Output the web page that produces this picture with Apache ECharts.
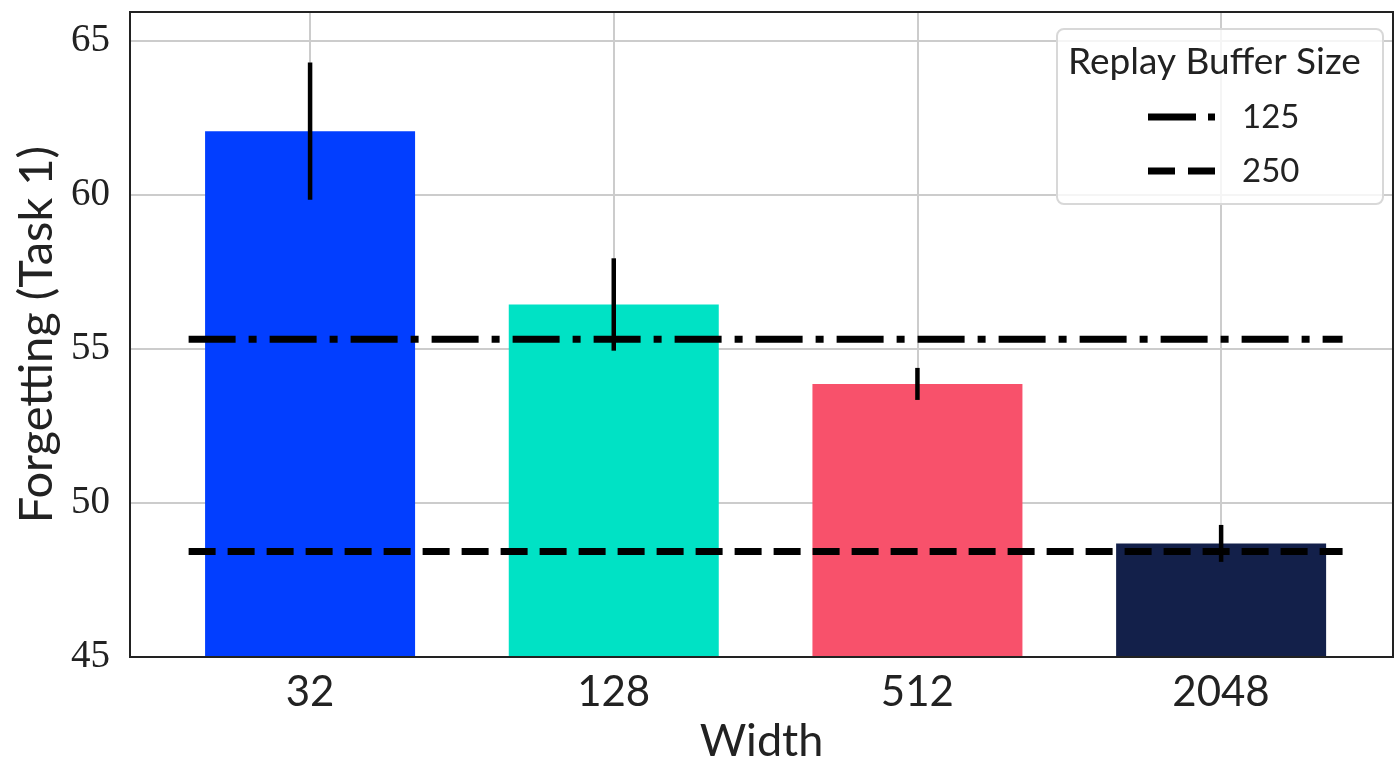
<!DOCTYPE html>
<html>
<head>
<meta charset="utf-8">
<script src="https://cdn.jsdelivr.net/npm/echarts@6/dist/echarts.min.js"></script>
<style>
  html, body { margin: 0; padding: 0; background: #fff; }
  #chart { width: 1394px; height: 762px; }
</style>
</head>
<body>
<div id="chart"></div>
<script>
// Network width categories and mean forgetting on task 1
const widths = ['32', '128', '512', '2048'];
const forgetting = [62.08, 56.45, 53.87, 48.69];
const forgettingErr = [2.23, 1.5, 0.52, 0.6];
const barColors = ['#023EFF', '#00E2C5', '#F8516B', '#13204A'];

// Replay baselines (buffer size -> forgetting)
const bufferSizes = ['125', '250'];
const bufferForgetting = [55.32, 48.43];

const yTicks = [45, 50, 55, 60, 65];

const SANS = 'Lato, "DejaVu Sans", sans-serif';
const SERIF = '"Liberation Serif", "DejaVu Serif", serif';

const X_MIN = -0.593, X_MAX = 3.566;   // data span of the plotting frame
const LINE_X0 = -0.4, LINE_X1 = 3.4;   // span of the reference lines

// plotting frame in pixels
const FRAME = { left: 130, top: 12, right: 1393, bottom: 657 };

const chart = echarts.init(document.getElementById('chart'));

const barData = forgetting.map((v, i) => ({
  value: [i, v],
  itemStyle: { color: barColors[i] }
}));

const errData = forgetting.map((v, i) => [i, v - forgettingErr[i], v + forgettingErr[i]]);

const dashPatterns = [[47, 13, 8, 13], [27, 12]];
// legend glyphs drawn as the same dash patterns
const legendIcons = [
  'path://M0,0h48v7h-48z M60,0h7v7h-7z',
  'path://M0,0h27v7h-27z M40,0h27v7h-27z'
];

const lineSeries = bufferSizes.map((name, k) => ({
  name: name,
  type: 'line',
  xAxisIndex: 0,
  yAxisIndex: 0,
  data: [[LINE_X0, bufferForgetting[k]], [LINE_X1, bufferForgetting[k]]],
  showSymbol: false,
  symbol: 'none',
  lineStyle: { color: '#000', width: 7, type: dashPatterns[k], cap: 'butt' },
  itemStyle: { color: '#000' },
  z: 5,
  silent: true,
  animation: false
}));

const option = {
  animation: false,
  backgroundColor: '#fff',
  grid: [
    {
      left: FRAME.left, right: 1394 - FRAME.right, top: FRAME.top, bottom: 762 - FRAME.bottom,
      containLabel: false, outerBoundsMode: 'none'
    },
    {
      left: 310, right: 173, top: FRAME.top, bottom: 762 - FRAME.bottom,
      containLabel: false, outerBoundsMode: 'none'
    }
  ],
  xAxis: [
    {
      type: 'value', gridIndex: 0, min: X_MIN, max: X_MAX,
      axisLine: { show: false }, axisTick: { show: false },
      axisLabel: { show: false }, splitLine: { show: false },
      name: 'Width', nameLocation: 'middle', nameGap: 62,
      nameTextStyle: { fontFamily: SANS, fontSize: 45, color: '#222' }
    },
    {
      type: 'category', gridIndex: 1, data: widths, boundaryGap: false,
      axisLine: { show: false }, axisTick: { show: false },
      axisLabel: { fontFamily: SANS, fontSize: 42, color: '#222', margin: 14 },
      splitLine: { show: true, lineStyle: { color: '#cccccc', width: 2 } }
    }
  ],
  yAxis: [
    {
      type: 'value', gridIndex: 0, min: 45, max: 65.95, interval: 5,
      axisLine: { show: false }, axisTick: { show: false },
      axisLabel: {
        fontFamily: SERIF, fontSize: 39, color: '#222', margin: 20,
        showMaxLabel: false,
        formatter: v => (yTicks.indexOf(v) >= 0 ? String(v) : '')
      },
      splitLine: {
        show: true,
        lineStyle: { color: '#cccccc', width: 2 },
        showMinLine: false,
        showMaxLine: false
      },
      name: 'Forgetting (Task 1)', nameLocation: 'middle', nameGap: 64,
      nameTextStyle: { fontFamily: SANS, fontSize: 47, color: '#222' }
    },
    {
      type: 'value', gridIndex: 1, min: 45, max: 65.95, show: false,
      splitLine: { show: false }
    }
  ],
  legend: {
    data: bufferSizes.map((n, k) => ({ name: n, icon: legendIcons[k] })),
    orient: 'vertical',
    left: 1143,
    top: 95,
    itemWidth: 67,
    itemHeight: 7,
    itemGap: 20,
    symbolKeepAspect: false,
    itemStyle: { color: '#000', borderWidth: 0 },
    textStyle: { fontFamily: SANS, fontSize: 33, color: '#222', padding: [0, 0, 0, 22], lineHeight: 34 },
    selectedMode: false,
    z: 20
  },
  graphic: [
    {
      type: 'rect', z: 15,
      shape: { x: 1057, y: 29, width: 326, height: 175, r: 7 },
      style: { fill: 'rgba(255,255,255,0.8)', stroke: '#d8d8d8', lineWidth: 2 }
    },
    {
      type: 'text', z: 16, left: 1068, top: 44,
      style: { text: 'Replay Buffer Size', font: '37px ' + SANS, fill: '#222' }
    },
    {
      // plot frame
      type: 'rect', z: 30, silent: true,
      shape: {
        x: FRAME.left, y: FRAME.top,
        width: FRAME.right - FRAME.left, height: FRAME.bottom - FRAME.top
      },
      style: { fill: 'none', stroke: '#222', lineWidth: 2 }
    }
  ],
  series: [
    {
      type: 'bar', xAxisIndex: 0, yAxisIndex: 0,
      data: barData, barWidth: 210, z: 2, clip: true
    },
    {
      type: 'custom', xAxisIndex: 0, yAxisIndex: 0, z: 4,
      data: errData,
      renderItem: function (params, api) {
        const lo = api.coord([api.value(0), api.value(1)]);
        const hi = api.coord([api.value(0), api.value(2)]);
        return {
          type: 'line',
          shape: { x1: lo[0], y1: lo[1], x2: hi[0], y2: hi[1] },
          style: { stroke: '#000', lineWidth: 4.5 }
        };
      }
    }
  ].concat(lineSeries)
};

chart.setOption(option);
</script>
</body>
</html>
